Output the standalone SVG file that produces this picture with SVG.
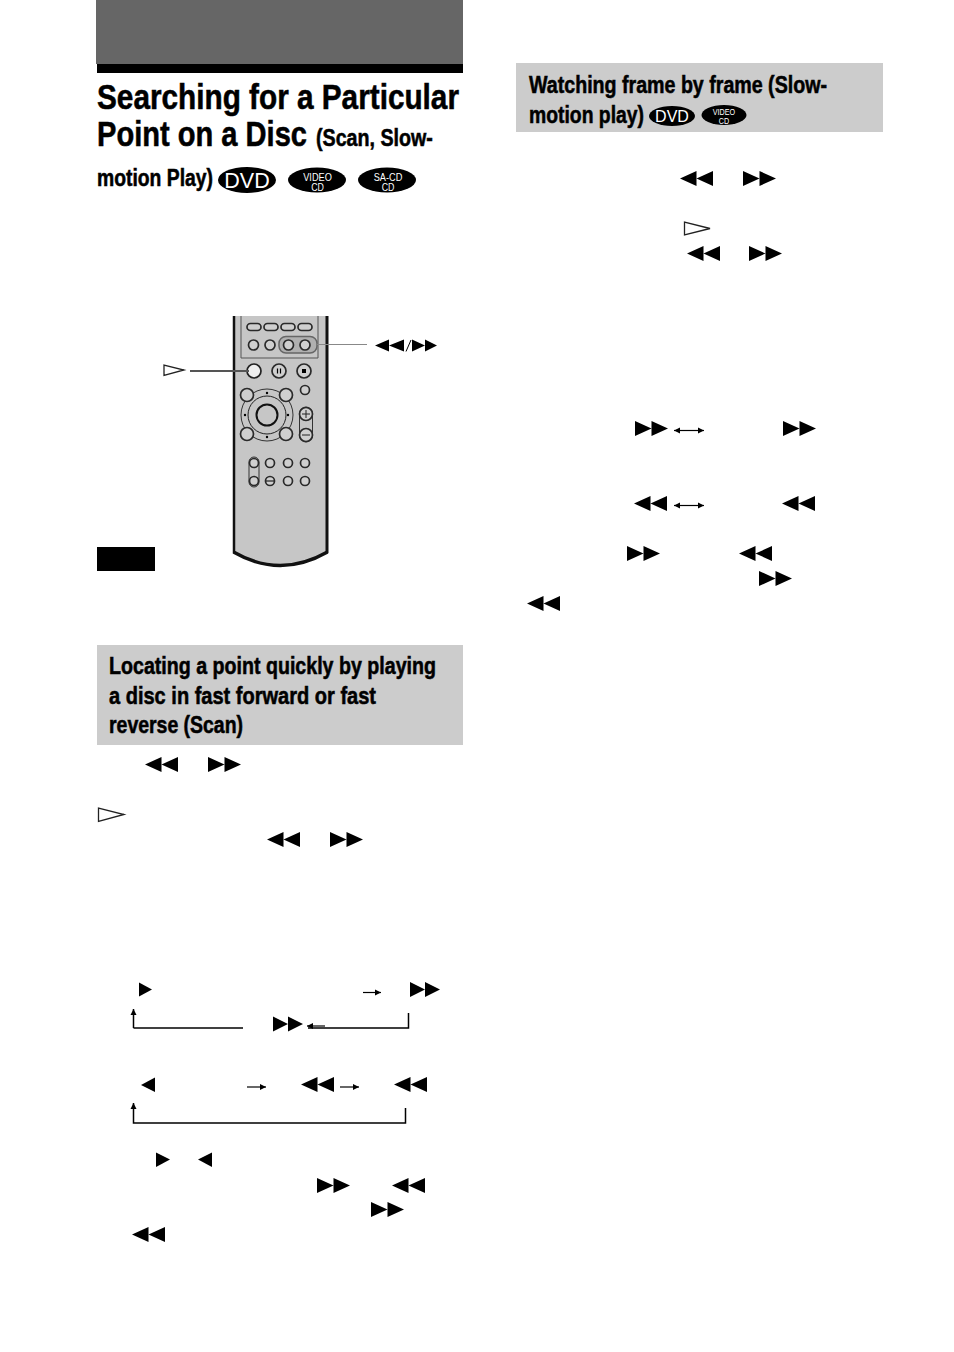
<svg xmlns="http://www.w3.org/2000/svg" xmlns:xlink="http://www.w3.org/1999/xlink" width="954" height="1352" viewBox="0 0 954 1352">
<style>
.h{font-family:"Liberation Sans",Arial,sans-serif;font-weight:700;fill:#000;stroke:#000;stroke-width:.55}
.o{font-family:"Liberation Sans",Arial,sans-serif;fill:#fff;text-anchor:middle}
.btn{fill:#cfcfcf;stroke:#2a2a2a;stroke-width:1.7}
.thin{fill:none;stroke:#333;stroke-width:1}
.ln{fill:none;stroke:#000;stroke-width:1.5}
.hol{fill:#fff;stroke:#222;stroke-width:1.3}
.ar{fill:none;stroke:#000;stroke-width:1.2}
</style>
<defs>
<polygon id="ff" points="0,-7.5 16.5,0 16.5,-7.5 33,0 16.5,7.500 16.5,0 0,7.500"/>
<polygon id="rw" points="33,-7.500 16.5,0 16.5,-7.500 0,0 16.5,7.500 16.5,0 33,7.500"/>
<polygon id="ffs" points="0,-7.500 15,0 15,-7.500 30,0 15,7.500 15,0 0,7.500"/>
<marker id="tip" markerWidth="7" markerHeight="7" refX="6" refY="3.5" orient="auto" markerUnits="userSpaceOnUse"><path d="M0,0.500L6,3.500L0,6.500Z" fill="#000"/></marker>
</defs>
<rect width="954" height="1352" fill="#fff"/>

<g id="title-block">
<rect x="96" y="0" width="367" height="64" fill="#666"/>
<rect x="97" y="64" width="366" height="9" fill="#000"/>
<text class="h" transform="translate(97,109) scale(.8,1)" font-size="36" textLength="452.500" lengthAdjust="spacingAndGlyphs">Searching for a Particular</text>
<text class="h" transform="translate(97,146) scale(.8,1)" font-size="36" textLength="262.500" lengthAdjust="spacingAndGlyphs">Point on a Disc</text>
<text class="h" transform="translate(316,146) scale(.8,1)" font-size="24" textLength="146" lengthAdjust="spacingAndGlyphs">(Scan, Slow-</text>
<text class="h" transform="translate(97,186) scale(.8,1)" font-size="24" textLength="145" lengthAdjust="spacingAndGlyphs">motion Play)</text>
</g>
<g id="badge-dvd"><ellipse cx="247" cy="180" rx="29" ry="13"/><text class="o" x="247" y="188" font-size="21.500">DVD</text></g>
<g id="badge-vcd"><ellipse cx="317" cy="180" rx="29" ry="12.500"/><text class="o" transform="translate(317.500,181) scale(.8,1)" font-size="11.500">VIDEO</text><text class="o" transform="translate(317.500,191) scale(.8,1)" font-size="11">CD</text></g>
<g id="badge-sacd"><ellipse cx="387" cy="180" rx="29" ry="12.500"/><text class="o" transform="translate(388,181) scale(.8,1)" font-size="11.500">SA-CD</text><text class="o" transform="translate(388,191) scale(.8,1)" font-size="11">CD</text></g>

<g id="remote">
<path d="M234,316V553Q280,580 327,553V316Z" fill="#c6c6c6"/>
<path d="M234,316V553" fill="none" stroke="#111" stroke-width="2.500"/>
<path d="M327,316V553" fill="none" stroke="#111" stroke-width="3"/>
<path d="M233.500,552Q280,579 327.500,552" fill="none" stroke="#111" stroke-width="3.500"/>
<path d="M241,316V358H318V316" fill="none" stroke="#555" stroke-width="1"/>
<rect x="247" y="323.500" width="14" height="7" rx="3.500" class="btn"/>
<rect x="264" y="323.500" width="14" height="7" rx="3.500" class="btn"/>
<rect x="281" y="323.500" width="14" height="7" rx="3.500" class="btn"/>
<rect x="298" y="323.500" width="14" height="7" rx="3.500" class="btn"/>
<circle cx="253.500" cy="345" r="5" class="btn"/><circle cx="270" cy="345" r="5" class="btn"/>
<rect x="279" y="336.500" width="38" height="16.500" rx="7" fill="#b0b0b0" stroke="#666" stroke-width="1.500"/>
<circle cx="288.500" cy="345" r="5" class="btn"/><circle cx="305" cy="345" r="5" class="btn"/>
<circle cx="254" cy="371" r="7" fill="#eee" stroke="#222" stroke-width="1.700"/>
<circle cx="279" cy="371" r="7" class="btn"/><circle cx="304" cy="371" r="7" class="btn"/>
<path d="M277.500,368.500v5M280.500,368.500v5" stroke="#000" stroke-width="1.200"/>
<rect x="302" y="369" width="4" height="4"/>
<circle cx="305" cy="390" r="4.500" class="btn"/>
<circle cx="267" cy="415" r="26" class="thin"/>
<circle cx="267" cy="415" r="19" fill="#c6c6c6" stroke="#222" stroke-width="1"/>
<circle cx="267" cy="415" r="10.500" fill="#c6c6c6" stroke="#111" stroke-width="2"/>
<circle cx="247" cy="395" r="6.500" class="btn"/><circle cx="286" cy="395" r="6.500" class="btn"/>
<circle cx="247" cy="434" r="6.500" class="btn"/><circle cx="286" cy="434" r="6.500" class="btn"/>
<circle cx="267" cy="393" r="1.200"/><circle cx="267" cy="437" r="1.200"/><circle cx="245" cy="415" r="1.200"/><circle cx="288" cy="415" r="1.200"/>
<rect x="299.500" y="407" width="13" height="35" rx="6.500" fill="#c6c6c6" stroke="#333" stroke-width="1"/>
<circle cx="306" cy="414" r="6.500" class="btn"/><circle cx="306" cy="435" r="6.500" class="btn"/>
<path d="M302,414h8M306,410v8M302,435h8" stroke="#222" stroke-width="1"/>
<rect x="249" y="457" width="10" height="30" rx="5" fill="#c6c6c6" stroke="#333" stroke-width="1"/>
<circle cx="254" cy="463" r="4.500" class="btn"/><circle cx="254" cy="481" r="4.500" class="btn"/>
<circle cx="270" cy="463" r="4.500" class="btn"/><circle cx="288" cy="463" r="4.500" class="btn"/><circle cx="305" cy="463" r="4.500" class="btn"/>
<circle cx="270" cy="481" r="4.500" class="btn"/><circle cx="288" cy="481" r="4.500" class="btn"/><circle cx="305" cy="481" r="4.500" class="btn"/>
<path d="M266,481h8" stroke="#222" stroke-width="1.200"/>
</g>

<g id="remote-labels">
<polygon class="hol" points="164,365 164,375.500 184,370"/>
<polygon points="375,345.500 389,339.500 389,345.500 404,339.500 404,351.500 389,345.500 389,351.500"/>
<path d="M406,351.500L411,340" stroke="#000" stroke-width="1" fill="none"/>
<polygon points="412,339.500 425,345.500 425,339.500 437,345.500 425,351.500 425,345.500 412,351.500"/>
</g>
<g id="note-box"><rect x="97" y="547" width="58" height="24"/></g>

<g id="header-scan">
<rect x="97" y="645" width="366" height="100" fill="#ccc"/>
<text class="h" transform="translate(109,674) scale(.75,1)" font-size="24" textLength="436" lengthAdjust="spacingAndGlyphs">Locating a point quickly by playing</text>
<text class="h" transform="translate(109,704) scale(.75,1)" font-size="24" textLength="356" lengthAdjust="spacingAndGlyphs">a disc in fast forward or fast</text>
<text class="h" transform="translate(109,733) scale(.75,1)" font-size="24" textLength="178.700" lengthAdjust="spacingAndGlyphs">reverse (Scan)</text>
</g>
<g id="header-slow">
<rect x="516" y="63" width="367" height="69" fill="#ccc"/>
<text class="h" transform="translate(529,93) scale(.75,1)" font-size="24" textLength="397.300" lengthAdjust="spacingAndGlyphs">Watching frame by frame (Slow-</text>
<text class="h" transform="translate(529,123) scale(.75,1)" font-size="24" textLength="153.300" lengthAdjust="spacingAndGlyphs">motion play)</text>
<ellipse cx="672" cy="116" rx="23" ry="10"/><text class="o" x="672" y="122" font-size="16">DVD</text>
<ellipse cx="724" cy="115" rx="22.500" ry="10"/><text class="o" transform="translate(724,115) scale(.8,1)" font-size="9">VIDEO</text><text class="o" transform="translate(724,123.500) scale(.8,1)" font-size="9">CD</text>
</g>

<g id="icons">
<use xlink:href="#rw" href="#rw" x="145" y="764.500"/><use xlink:href="#ff" href="#ff" x="208" y="764.500"/>
<polygon class="hol" points="98.500,808 98.500,821.500 124,814.500"/>
<use xlink:href="#rw" href="#rw" x="267" y="839.500"/><use xlink:href="#ff" href="#ff" x="330" y="839.500"/>
<polygon points="139,982.500 152,989.500 139,996.500"/>
<use xlink:href="#ffs" href="#ffs" x="410" y="989.500"/><use xlink:href="#ffs" href="#ffs" x="273" y="1024"/>
<polygon points="155,1077.500 141,1085 155,1092"/>
<use xlink:href="#rw" href="#rw" x="301" y="1084.500"/><use xlink:href="#rw" href="#rw" x="394" y="1084.500"/>
<polygon points="156,1152.500 170,1159.500 156,1167"/><polygon points="212,1152.500 198,1159.500 212,1167"/>
<use xlink:href="#ff" href="#ff" x="317" y="1185.500"/><use xlink:href="#rw" href="#rw" x="392" y="1185.500"/>
<use xlink:href="#ff" href="#ff" x="371" y="1209.500"/><use xlink:href="#rw" href="#rw" x="132" y="1234.500"/>
<use xlink:href="#rw" href="#rw" x="680" y="178.500"/><use xlink:href="#ff" href="#ff" x="743" y="178.500"/>
<polygon class="hol" points="684.500,222 684.500,235 710,228.500"/>
<use xlink:href="#rw" href="#rw" x="687" y="253.500"/><use xlink:href="#ff" href="#ff" x="749" y="253.500"/>
<use xlink:href="#ff" href="#ff" x="635" y="428.500"/><use xlink:href="#ff" href="#ff" x="783" y="428.500"/>
<use xlink:href="#rw" href="#rw" x="634" y="503.500"/><use xlink:href="#rw" href="#rw" x="782" y="503.500"/>
<use xlink:href="#ff" href="#ff" x="627" y="553.500"/><use xlink:href="#rw" href="#rw" x="739" y="553.500"/>
<use xlink:href="#ff" href="#ff" x="759" y="578.500"/><use xlink:href="#rw" href="#rw" x="527" y="603.500"/>
</g>

<g id="connectors">
<path d="M190,371H249" fill="none" stroke="#555" stroke-width="1.800"/>
<path d="M317,344.500H367" fill="none" stroke="#888" stroke-width="1.200"/>
<path class="ar" marker-end="url(#tip)" d="M363,992.500H381"/>
<path class="ar" marker-end="url(#tip)" d="M325,1026H307"/>
<path class="ln" d="M243,1028H133.500"/>
<path class="ln" marker-end="url(#tip)" d="M133.500,1028V1009"/>
<path class="ln" d="M308,1028H408.500V1013"/>
<path class="ar" marker-end="url(#tip)" d="M247,1087H266"/>
<path class="ar" marker-end="url(#tip)" d="M340,1087H359"/>
<path class="ln" marker-end="url(#tip)" d="M405.500,1108V1123H133.500V1103"/>
<path class="ar" marker-end="url(#tip)" d="M689,430.500H704"/>
<path class="ar" marker-end="url(#tip)" d="M689,430.500H674"/>
<path class="ar" marker-end="url(#tip)" d="M689,505.500H704"/>
<path class="ar" marker-end="url(#tip)" d="M689,505.500H674"/>
</g>
</svg>
